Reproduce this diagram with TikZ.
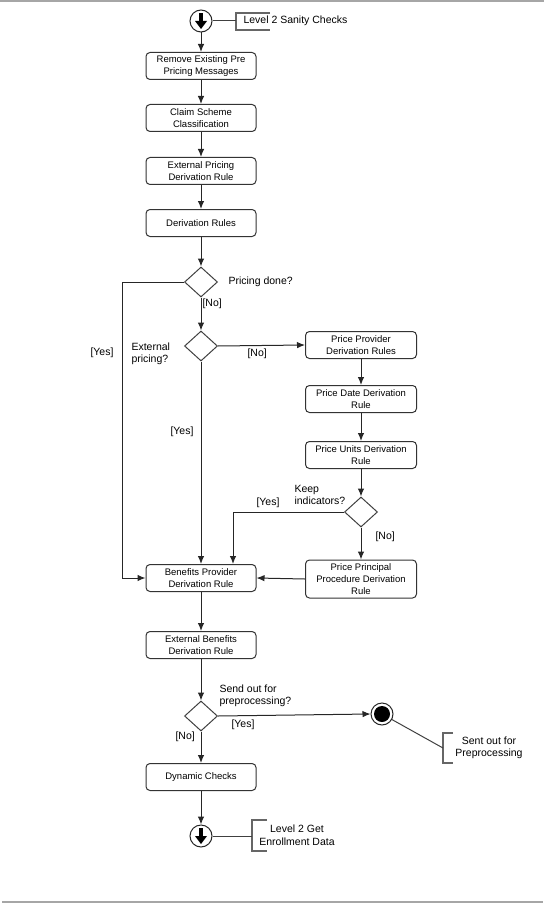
\documentclass[tikz,border=0pt]{standalone}
\usepackage{fontspec}
\setmainfont{Liberation Sans}
\usetikzlibrary{shapes.geometric,arrows.meta}

\tikzset{
  act/.style={draw=black!80, rounded corners=4pt, minimum width=110pt, minimum height=27pt,
    align=center, inner sep=1pt, font=\fontsize{9.5}{12}\selectfont},
  dec/.style={draw=black!75, diamond, minimum width=33pt, minimum height=30pt, inner sep=0pt},
  lbl/.style={inner sep=0pt, align=left, font=\fontsize{10.5}{12.5}\selectfont},
  flow/.style={black!85, -{Latex[length=8pt,width=6.5pt]}},
  wire/.style={black!75},
  note/.style={draw=black!60, line width=1.3pt},
  callmark/.pic={
    \fill (-2,-8) rectangle (2,1);
    \fill (-6,0) -- (6,0) -- (0,8) -- cycle;
  }
}

\begin{document}
\begin{tikzpicture}[x=1pt,y=-1pt,line width=1pt]
\useasboundingbox (0,0) rectangle (544,904);
%%Frame
\draw[gray!70, line width=1.5pt] (0,1) -- (544,1);
\draw[gray!70, line width=1.5pt] (2,902) -- (543,902);

%%Start
\node[circle, draw=black!85, minimum size=22pt, inner sep=0pt] (start) at (201,21) {};
\pic at (201,21) {callmark};
\coordinate (startbr) at (236,21);
\draw[note] (270,13) -- (236,13) -- (236,30) -- (270,30);
\node[lbl, anchor=west] (startnote) at (243,21) {Level 2 Sanity Checks};

%%Actions
\node[act] (remove) at (201,66) {Remove Existing Pre\\Pricing Messages};
\node[act] (claim) at (201,118) {Claim Scheme\\Classification};
\node[act] (extprice) at (201,171) {External Pricing\\Derivation Rule};
\node[act] (derive) at (201,223) {Derivation Rules};
\node[act, minimum width=111pt] (provider) at (361,345) {Price Provider\\Derivation Rules};
\node[act, minimum width=111pt] (date) at (361,399) {Price Date Derivation\\Rule};
\node[act, minimum width=111pt] (units) at (361,455) {Price Units Derivation\\Rule};
\node[act, minimum width=111pt, minimum height=38pt] (principal) at (361,579) {Price Principal\\Procedure Derivation\\Rule};
\node[act] (benefits) at (201,578) {Benefits Provider\\Derivation Rule};
\node[act] (extben) at (201,645) {External Benefits\\Derivation Rule};
\node[act] (dynamic) at (201,777) {Dynamic Checks};

%%Decisions
\node[dec] (done) at (201,282) {};
\node[dec] (external) at (201,346) {};
\node[dec] (keep) at (361,512) {};
\node[dec] (send) at (201,716) {};

%%Final
\node[circle, draw=black!85, minimum size=22pt, inner sep=0pt] (final) at (382,714) {};
\fill (382,714) circle (8);
\node[circle, draw=black!85, minimum size=22pt, inner sep=0pt] (finish) at (201,836) {};
\pic at (201,836) {callmark};

%%Notes
\coordinate (sentbr) at (443,748);
\draw[note] (453,733) -- (443,733) -- (443,763) -- (453,763);
\node[lbl, align=center] (sentnote) at (489,748) {Sent out for\\Preprocessing};
\coordinate (endbr) at (252,836);
\draw[note] (267,820) -- (252,820) -- (252,851) -- (267,851);
\node[lbl, align=center] (endnote) at (297,835) {Level 2 Get\\Enrollment Data};

%%Flow
\draw[wire] (start) -- (startbr);
\draw[flow] (start) -- (remove);
\draw[flow] (remove) -- (claim);
\draw[flow] (claim) -- (extprice);
\draw[flow] (extprice) -- (derive);
\draw[flow] (derive) -- (done.north);
\coordinate (yesleft) at (122,282);
\draw[flow] (done.west) -- (yesleft) |- (benefits.west);
\draw[flow] (done.south) -- (external.north);
\draw[flow] (external.east) -- (provider.west);
\draw[flow] (external.south) -- (benefits.north);
\draw[flow] (provider) -- (date);
\draw[flow] (date) -- (units);
\draw[flow] (units) -- (keep.north);
\draw[flow] (keep.west) -| ([xshift=32pt]benefits.north);
\draw[flow] (keep.south) -- (principal.north);
\draw[flow] (principal.west) -- (benefits.east);
\draw[flow] (benefits) -- (extben);
\draw[flow] (extben) -- (send.north);
\draw[flow] (send.east) -- (final.west);
\draw[flow] (send.south) -- (dynamic.north);
\draw[flow] (dynamic) -- (finish.north);
\draw[wire] (final) -- (sentbr);
\draw[wire] (finish) -- (endbr);

%%Labels
\node[lbl, anchor=west] (donelbl) at (228,282) {Pricing done?};
\node[lbl, anchor=west] (donono) at (202,304) {[No]};
\node[lbl, anchor=west] (doneyes) at (90,353) {[Yes]};
\node[lbl, anchor=west] (extlbl) at (131,354) {External\\pricing?};
\node[lbl, anchor=west] (extno) at (247,354) {[No]};
\node[lbl, anchor=west] (extyes) at (170,432) {[Yes]};
\node[lbl, anchor=west] (keeplbl) at (294,495) {Keep\\indicators?};
\node[lbl, anchor=west] (keepyes) at (256,503) {[Yes]};
\node[lbl, anchor=west] (keepno) at (375,537) {[No]};
\node[lbl, anchor=west] (sendlbl) at (219,696) {Send out for\\preprocessing?};
\node[lbl, anchor=west] (sendyes) at (231,725) {[Yes]};
\node[lbl, anchor=west] (sendno) at (175,737) {[No]};
\end{tikzpicture}
\end{document}
